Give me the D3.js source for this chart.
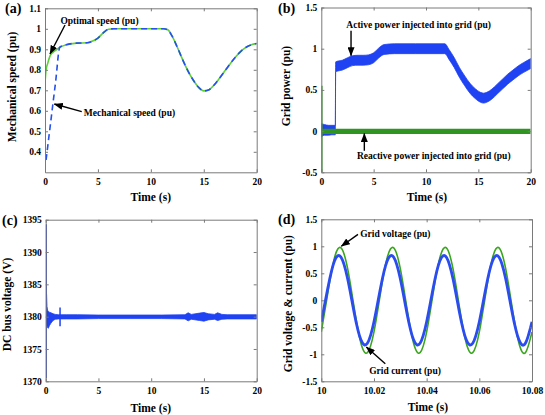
<!DOCTYPE html>
<html><head><meta charset="utf-8">
<script src="https://cdn.jsdelivr.net/npm/d3@7"></script>
<style>
body{margin:0;background:#fff}
svg{display:block}
text{font-family:"Liberation Serif","Times New Roman",serif;font-weight:bold;fill:#000}
</style>
</head><body>
<svg id="c" width="545" height="415"></svg>
<script>
// ---------- (a) mechanical speed ----------
const speedTime    = [0, 0.1, 0.25, 0.5, 0.75, 1, 1.4, 2, 3, 4, 4.5, 5, 5.5, 6, 6.5, 8, 10, 11.2, 11.6, 12, 12.5, 13, 13.5, 14, 14.5, 15, 15.5, 16, 16.5, 17, 17.5, 18, 18.5, 19, 19.5, 20];
const optimalSpeed = [0.734, 0.80, 0.83, 0.87, 0.885, 0.895, 0.91, 0.922, 0.93, 0.932, 0.94, 0.955, 0.98, 0.998, 1.0, 1.0, 1.0, 1.0, 0.995, 0.965, 0.91, 0.85, 0.795, 0.75, 0.715, 0.697, 0.703, 0.727, 0.76, 0.795, 0.83, 0.862, 0.89, 0.91, 0.922, 0.928];
const mechSpeed    = [null, 0.36, 0.423, 0.529, 0.635, 0.74, 0.91, 0.922, 0.93, 0.932, 0.94, 0.955, 0.98, 0.998, 1.0, 1.0, 1.0, 1.0, 0.995, 0.965, 0.91, 0.85, 0.795, 0.75, 0.715, 0.697, 0.703, 0.727, 0.76, 0.795, 0.83, 0.862, 0.89, 0.91, 0.922, 0.928];

// ---------- (b) grid power (noise band envelopes) ----------
const activeTime = [0, 0.3, 0.7, 1.0, 1.34, 1.37, 1.6, 2, 2.5, 3, 3.5, 4, 4.5, 5, 5.5, 6, 7, 9, 11.8, 12.2, 12.7, 13.2, 13.7, 14.2, 14.7, 15.2, 15.5, 15.8, 16.3, 16.8, 17.3, 17.8, 18.3, 18.8, 19.3, 20];
const activeLow  = [-0.07, -0.05, -0.05, -0.045, -0.045, 0.72, 0.73, 0.74, 0.77, 0.795, 0.80, 0.80, 0.805, 0.83, 0.89, 0.93, 0.94, 0.94, 0.94, 0.87, 0.77, 0.65, 0.55, 0.46, 0.395, 0.35, 0.34, 0.35, 0.39, 0.45, 0.51, 0.57, 0.62, 0.67, 0.71, 0.76];
const activeHigh = [0.09, 0.08, 0.07, 0.07, 0.07, 0.84, 0.85, 0.86, 0.89, 0.915, 0.92, 0.92, 0.925, 0.95, 1.01, 1.05, 1.06, 1.06, 1.06, 0.99, 0.89, 0.77, 0.67, 0.58, 0.515, 0.47, 0.46, 0.47, 0.51, 0.57, 0.63, 0.69, 0.74, 0.79, 0.83, 0.88];
const reactiveTime = [0, 20];
const reactiveLow  = [-0.035, -0.035];
const reactiveHigh = [0.03, 0.03];
const reactiveSpikeTime = [0.05];
const reactiveSpikeLow  = [-0.5];
const reactiveSpikeHigh = [0.55];

// ---------- (c) DC bus voltage ----------
const dcTime = [0.08, 0.12, 0.18, 0.25, 0.35, 0.5, 0.7, 0.9, 1.2, 2, 3, 5, 8, 11, 13.2, 13.5, 13.8, 14.6, 15.0, 15.4, 16, 16.3, 16.7, 17.2, 20];
const dcLow  = [1379.0, 1378.6, 1378.3, 1378.2, 1378.6, 1379.0, 1379.4, 1379.6, 1379.65, 1379.65, 1379.65, 1379.7, 1379.7, 1379.7, 1379.65, 1379.35, 1379.6, 1379.4, 1379.3, 1379.5, 1379.6, 1379.4, 1379.6, 1379.65, 1379.65];
const dcHigh = [1383.5, 1381.6, 1381.0, 1380.8, 1380.7, 1380.6, 1380.45, 1380.35, 1380.3, 1380.3, 1380.3, 1380.25, 1380.25, 1380.25, 1380.3, 1380.6, 1380.35, 1380.55, 1380.65, 1380.45, 1380.35, 1380.6, 1380.35, 1380.3, 1380.3];
const dcSpikeTime = [0.05, 1.36];
const dcSpikeLow  = [1370.5, 1378.5];
const dcSpikeHigh = [1394.3, 1381.4];

// ---------- (d) grid voltage & current ----------
const gridTime = [10, 10.0025, 10.005, 10.0075, 10.01, 10.0125, 10.015, 10.0175, 10.02, 10.0225, 10.025, 10.0275, 10.03, 10.0325, 10.035, 10.0375, 10.04, 10.0425, 10.045, 10.0475, 10.05, 10.0525, 10.055, 10.0575, 10.06, 10.0625, 10.065, 10.0675, 10.07, 10.0725, 10.075, 10.0775, 10.08];
const gridVoltage = [-0.585, 0.142, 0.786, 0.970, 0.585, -0.142, -0.786, -0.970, -0.585, 0.142, 0.786, 0.970, 0.585, -0.142, -0.786, -0.970, -0.585, 0.142, 0.786, 0.970, 0.585, -0.142, -0.786, -0.970, -0.585, 0.142, 0.786, 0.970, 0.585, -0.142, -0.786, -0.970, -0.585];
const gridCurrent = [-0.398, 0.234, 0.728, 0.796, 0.398, -0.234, -0.728, -0.796, -0.398, 0.234, 0.728, 0.796, 0.398, -0.234, -0.728, -0.796, -0.398, 0.234, 0.728, 0.796, 0.398, -0.234, -0.728, -0.796, -0.398, 0.234, 0.728, 0.796, 0.398, -0.234, -0.728, -0.796, -0.398];

// ---------- ticks ----------
const timeTicks = [0, 5, 10, 15, 20];
const speedTicks = [0.4, 0.5, 0.6, 0.7, 0.8, 0.9, 1, 1.1];
const powerTicks = [-0.5, 0, 0.5, 1, 1.5];
const dcTicks = [1370, 1375, 1380, 1385, 1390, 1395];
const gridTicksX = [10, 10.02, 10.04, 10.06, 10.08];
const gridTicksY = [-1.5, -1, -0.5, 0, 0.5, 1, 1.5];

const SERIF = '"Liberation Serif","Times New Roman",serif';
const svg = d3.select('#c');

svg.append('defs').append('marker')
  .attr('id', 'arr').attr('markerUnits', 'userSpaceOnUse')
  .attr('markerWidth', 9).attr('markerHeight', 7).attr('refX', 8.5).attr('refY', 3.5)
  .attr('orient', 'auto')
  .append('path').attr('d', 'M0,0 L9,3.5 L0,7 Z').attr('fill', '#000');

function makePanel(p) {
  const x = d3.scaleLinear().domain(p.xd).range([p.l, p.r]);
  const y = d3.scaleLinear().domain(p.yd).range([p.b, p.t]);
  const id = 'clip' + p.name;
  svg.append('clipPath').attr('id', id).append('rect')
    .attr('x', p.l).attr('y', p.t).attr('width', p.r - p.l).attr('height', p.b - p.t);
  const plot = svg.append('g').attr('clip-path', `url(#${id})`);
  return {x, y, plot, p};
}

function drawAxes(P, xt, yt) {
  const p = P.p;
  const fmt = d => String(+d.toFixed(2));
  const list = [
    [d3.axisBottom(P.x).tickValues(xt).tickFormat(fmt), `translate(0,${p.b})`, 6],
    [d3.axisTop(P.x).tickValues(xt).tickFormat(''), `translate(0,${p.t})`, 0],
    [d3.axisLeft(P.y).tickValues(yt).tickFormat(fmt), `translate(${p.l},0)`, 4],
    [d3.axisRight(P.y).tickValues(yt).tickFormat(''), `translate(${p.r},0)`, 0]
  ];
  list.forEach(([ax, tr, pad]) => {
    const g = svg.append('g').attr('transform', tr)
      .call(ax.tickSizeInner(-3).tickSizeOuter(0).tickPadding(pad));
    g.attr('font-family', SERIF).attr('font-size', 9.5).attr('font-weight', 'bold');
    g.select('.domain').attr('stroke', '#7a7a7a');
    g.selectAll('.tick line').attr('stroke', '#7a7a7a');
    g.selectAll('.tick text').attr('fill', '#000');
  });
}

function labels(P, tag, tagPos, ylab, yPos, xPos) {
  svg.append('text').attr('x', tagPos[0]).attr('y', tagPos[1]).attr('font-size', 14).text(tag);
  svg.append('text').attr('transform', `translate(${yPos[0]},${yPos[1]}) rotate(-90)`)
    .attr('text-anchor', 'middle').attr('font-size', 11.5).text(ylab);
  svg.append('text').attr('x', xPos[0]).attr('y', xPos[1])
    .attr('text-anchor', 'middle').attr('font-size', 11.5).text('Time (s)');
}

function annotate(P, a) {
  svg.append('line')
    .attr('x1', P.x(a.from[0])).attr('y1', P.y(a.from[1]))
    .attr('x2', P.x(a.to[0])).attr('y2', P.y(a.to[1]))
    .attr('stroke', '#000').attr('stroke-width', 1.4).attr('marker-end', 'url(#arr)');
  svg.append('text').attr('x', P.x(a.at[0])).attr('y', P.y(a.at[1]) + 3.2)
    .attr('text-anchor', 'middle').attr('font-size', 9.5).text(a.label);
}

// ===== (a) =====
const A = makePanel({name: 'a', xd: [0, 20], yd: [0.3, 1.1], l: 45, r: 256.7, t: 8.3, b: 172.3});
const lineA = (vals) => d3.line().defined((d, i) => vals[i] != null)
  .x((d, i) => A.x(speedTime[i])).y((d, i) => A.y(vals[i])).curve(d3.curveMonotoneX)(vals);
A.plot.append('path').attr('d', lineA(optimalSpeed)).attr('fill', 'none')
  .attr('stroke', '#5ccf3a').attr('stroke-width', 1.6);
A.plot.append('path').attr('d', lineA(mechSpeed)).attr('fill', 'none')
  .attr('stroke', '#2450ee').attr('stroke-width', 1.6).attr('stroke-dasharray', '6,4');
drawAxes(A, timeTicks, speedTicks);
labels(A, '(a)', [5, 13], 'Mechanical speed (pu)', [15.5, 87], [150.8, 200.5]);
annotate(A, {label: 'Optimal speed (pu)', at: [5.15, 1.04], from: [1.89, 1.0185], to: [0.47, 0.877]});
annotate(A, {label: 'Mechanical speed (pu)', at: [7.98, 0.591], from: [3.47, 0.596], to: [0.88, 0.633]});

// ===== (b) =====
const B = makePanel({name: 'b', xd: [0, 20], yd: [-0.5, 1.5], l: 321.3, r: 530.7, t: 7.5, b: 172.3});
const bandB = (tArr, lo, hi, curve) => d3.area()
  .x((d, i) => B.x(tArr[i])).y0((d, i) => B.y(lo[i])).y1((d, i) => B.y(hi[i])).curve(curve)(tArr);
B.plot.append('path').attr('d', bandB(activeTime, activeLow, activeHigh, d3.curveMonotoneX))
  .attr('fill', '#1f42f2').attr('stroke', '#1f42f2').attr('stroke-width', 0.8);
B.plot.append('path').attr('d', bandB(reactiveTime, reactiveLow, reactiveHigh, d3.curveLinear))
  .attr('fill', '#2f9422');
B.plot.selectAll('.rspike').data(reactiveSpikeTime).join('line')
  .attr('x1', d => B.x(d)).attr('x2', d => B.x(d))
  .attr('y1', (d, i) => B.y(reactiveSpikeLow[i])).attr('y2', (d, i) => B.y(reactiveSpikeHigh[i]))
  .attr('stroke', '#2f9422').attr('stroke-width', 1.5);
drawAxes(B, timeTicks, powerTicks);
labels(B, '(b)', [278, 13], 'Grid power (pu)', [290, 86], [427, 200.5]);
annotate(B, {label: 'Active power injected into grid (pu)', at: [9.30, 1.29], from: [2.84, 1.217], to: [2.84, 0.914]});
annotate(B, {label: 'Reactive power injected into grid (pu)', at: [10.74, -0.303], from: [4.11, -0.239], to: [4.11, -0.029]});

// ===== (c) =====
const C = makePanel({name: 'c', xd: [0, 20], yd: [1370, 1395], l: 45.7, r: 256.7, t: 219.7, b: 381.3});
C.plot.append('path').attr('d', d3.area()
    .x((d, i) => C.x(dcTime[i])).y0((d, i) => C.y(dcLow[i])).y1((d, i) => C.y(dcHigh[i]))(dcTime))
  .attr('fill', '#1f42f2').attr('stroke', '#1f42f2').attr('stroke-width', 0.8);
C.plot.selectAll('.dspike').data(dcSpikeTime).join('line')
  .attr('x1', d => C.x(d)).attr('x2', d => C.x(d))
  .attr('y1', (d, i) => C.y(dcSpikeLow[i])).attr('y2', (d, i) => C.y(dcSpikeHigh[i]))
  .attr('stroke', '#1f42f2').attr('stroke-width', 1.5);
drawAxes(C, timeTicks, dcTicks);
labels(C, '(c)', [2, 225], 'DC bus voltage (V)', [10.5, 304.5], [150.8, 411.8]);

// ===== (d) =====
const D = makePanel({name: 'd', xd: [10, 10.08], yd: [-1.5, 1.5], l: 321.3, r: 532, t: 219.3, b: 381.3});
const lineD = (vals) => d3.line().x((d, i) => D.x(gridTime[i])).y((d, i) => D.y(vals[i]))
  .curve(d3.curveNatural)(vals);
D.plot.append('path').attr('d', lineD(gridVoltage)).attr('fill', 'none')
  .attr('stroke', '#3aa51e').attr('stroke-width', 1.6);
D.plot.append('path').attr('d', lineD(gridCurrent)).attr('fill', 'none')
  .attr('stroke', '#2a4cf0').attr('stroke-width', 2.8);
drawAxes(D, gridTicksX, gridTicksY);
labels(D, '(d)', [278, 224], 'Grid voltage & current (pu)', [291.5, 303.7], [428, 410.8]);
annotate(D, {label: 'Grid voltage (pu)', at: [10.0281, 1.233], from: [10.01393, 1.222], to: [10.0076, 1.0]});
annotate(D, {label: 'Grid current (pu)', at: [10.0318, -1.309], from: [10.0243, -1.174], to: [10.0171, -0.865]});
</script>
</body></html>
